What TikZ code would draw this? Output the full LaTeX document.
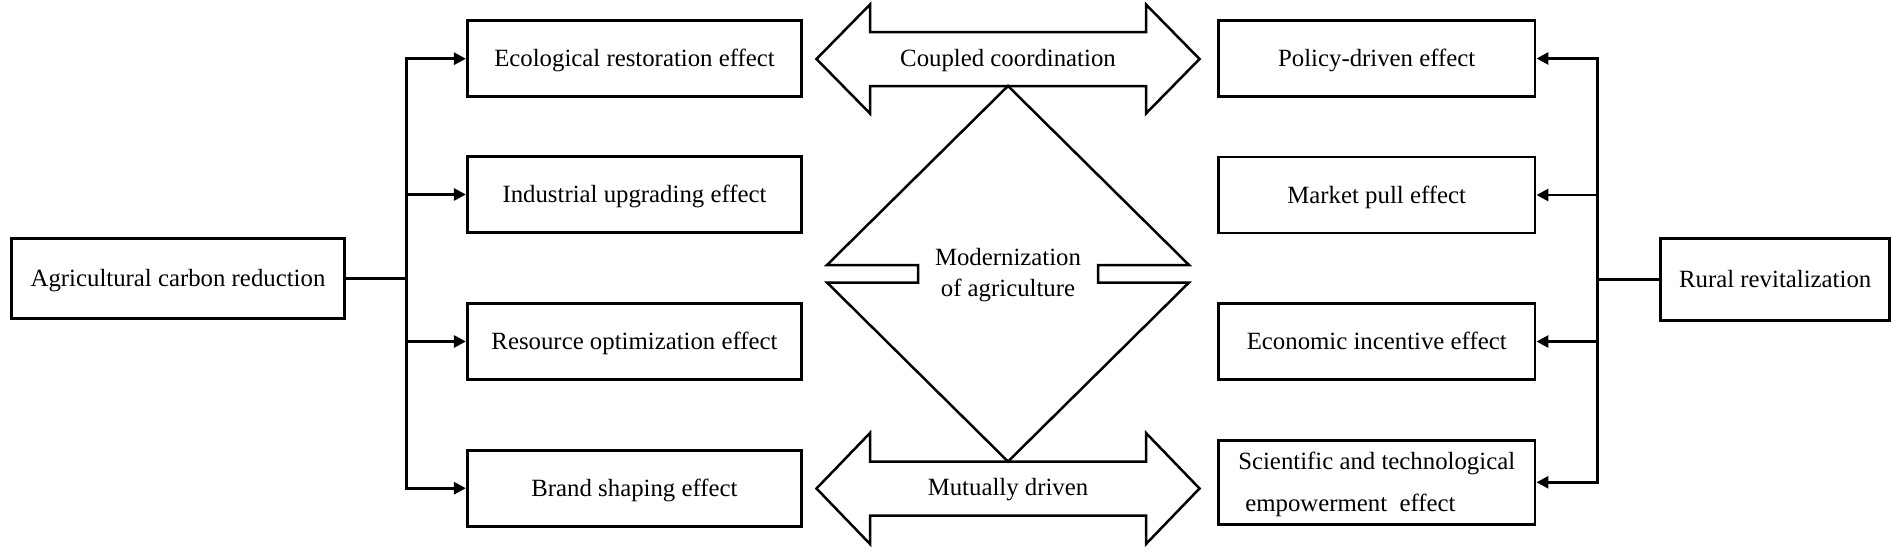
\documentclass[tikz,border=0pt]{standalone}
\usepackage{fontspec}
\setmainfont{Liberation Serif}
\usetikzlibrary{arrows.meta}
\begin{document}
\begin{tikzpicture}[x=0.5pt,y=-0.5pt,
  font=\fontsize{12.4}{15.5}\selectfont,
  box/.style={draw, line width=1.4pt, inner sep=0pt, text height=8.2pt, text depth=0pt, align=center},
  lbox/.style={box, minimum width=167.2pt, minimum height=38pt},
  rbox/.style={box, minimum width=158.35pt, minimum height=38pt},
  conn/.style={line width=1.4pt},
  arr/.style={conn, -{Triangle[length=6pt,width=6pt]}},
  big/.style={draw, line width=1.25pt, line join=miter},
  lab/.style={inner sep=0pt, text height=8.2pt, text depth=0pt, align=center}]
\useasboundingbox (0,0) rectangle (1902,552);
% left side
\node[box, minimum width=166.5pt, minimum height=40pt] (acr) at (178,278.7) {Agricultural carbon reduction};
\node[lbox] (eco) at (634.5,58.7) {Ecological restoration effect};
\node[lbox] (ind) at (634.5,194.5) {Industrial upgrading effect};
\node[lbox] (res) at (634.5,341.5) {Resource optimization effect};
\node[lbox] (brand) at (634.5,488.2) {Brand shaping effect};
% right side
\node[rbox] (pol) at (1376.7,58.5) {Policy-driven effect};
\node[rbox] (mkt) at (1376.7,195) {Market pull effect};
\node[rbox] (eci) at (1376.7,341.5) {Economic incentive effect};
\node[rbox, minimum height=42pt, align=left, text height=28.8pt, font=\fontsize{12.4}{20.6}\selectfont] (sci) at (1376.7,482.3) {Scientific and technological\\\hspace{3.5pt}empowerment~ effect};
\node[box, minimum width=114.6pt, minimum height=41pt] (rr) at (1775.2,279.4) {Rural revitalization};
% trunks
\coordinate (tl) at (406.7,278.7);
\coordinate (tr) at (1597.5,279.4);
\draw[conn] (acr.east) -- (tl);
\draw[arr] (tl) |- (eco.west);
\draw[arr] (tl) |- (brand.west);
\draw[arr] (ind.west -| tl) -- (ind.west);
\draw[arr] (res.west -| tl) -- (res.west);
\draw[conn] (rr.west) -- (tr);
\draw[arr] (tr) |- (pol.east);
\draw[arr] (tr) |- (sci.east);
\draw[arr] (mkt.east -| tr) -- (mkt.east);
\draw[arr] (eci.east -| tr) -- (eci.east);
% central shapes
\draw[big] (816.5,59) -- (870,4.5) -- (870,32) -- (1146,32) -- (1146,4.5) -- (1199.5,59) -- (1146,113.5) -- (1146,86) -- (870,86) -- (870,113.5) -- cycle;
\draw[big] (816.5,488.5) -- (870,433) -- (870,461.5) -- (1146,461.5) -- (1146,433) -- (1199.5,488.5) -- (1146,544) -- (1146,515.5) -- (870,515.5) -- (870,544) -- cycle;
\draw[big] (1008,86) -- (827,265) -- (918,265) -- (918,282.5) -- (827,282.5) -- (1008,461.5) -- (1189,282.5) -- (1098,282.5) -- (1098,265) -- (1189,265) -- cycle;
\node[lab] (cc) at (1008,57.8) {Coupled coordination};
\node[lab] (md) at (1008,486.8) {Mutually driven};
\node[lab, text height=23.7pt] (mod) at (1008,273) {Modernization\\of agriculture};
\end{tikzpicture}
\end{document}
